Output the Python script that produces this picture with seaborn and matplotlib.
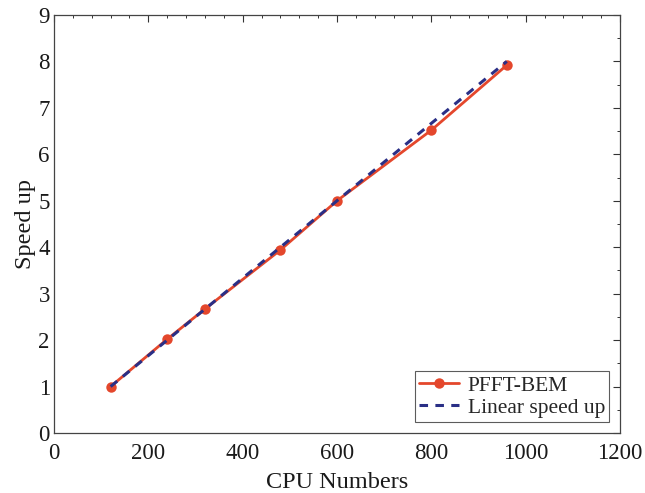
import matplotlib
matplotlib.use("Agg")
import matplotlib.pyplot as plt
from matplotlib.ticker import MultipleLocator
import seaborn as sns
import pandas as pd

cpu_numbers = [120, 240, 320, 480, 600, 800, 960]
pfft_bem = [1.0, 2.02, 2.67, 3.94, 5.0, 6.52, 7.92]
linear_speedup = [1.0, 2.0, 2.667, 4.0, 5.0, 6.667, 8.0]

sns.set_theme(style="white")
plt.rcParams["font.family"] = ["Liberation Serif", "DejaVu Serif"]

df = pd.DataFrame({"cpu": cpu_numbers, "pfft": pfft_bem, "linear": linear_speedup})

fig = plt.figure(figsize=(6.45, 4.93), dpi=100)
ax = fig.add_axes([54 / 645, 1 - 433 / 493, (620 - 54) / 645, (433 - 15) / 493])

sns.lineplot(data=df, x="cpu", y="pfft", ax=ax, color="#e4472c", linewidth=2.0,
             marker="o", markersize=7.5, markeredgewidth=0, label="PFFT-BEM")
sns.lineplot(data=df, x="cpu", y="linear", ax=ax, color="#2a2f86", linewidth=2.2,
             linestyle=(0, (2.8, 2.4)), label="Linear speed up")

ax.set_xlim(0, 1200)
ax.set_ylim(0, 9)
ax.xaxis.set_major_locator(MultipleLocator(200))
ax.xaxis.set_minor_locator(MultipleLocator(40))
ax.yaxis.set_major_locator(MultipleLocator(1))
ax.yaxis.set_minor_locator(MultipleLocator(0.5))
ax.tick_params(which="both", direction="in", top=True, right=True, colors="#333333",
               labelcolor="#1a1a1a")
ax.tick_params(which="major", length=5, width=0.8, labelsize=16.5)
ax.tick_params(axis="x", which="major", pad=7)
ax.tick_params(axis="y", which="major", pad=3)
ax.tick_params(which="minor", length=2.5, width=0.7)
for s in ax.spines.values():
    s.set_color("#444444")
    s.set_linewidth(0.9)

ax.set_xlabel("CPU Numbers", fontsize=17.5, color="#1a1a1a", labelpad=6)
ax.set_ylabel("Speed up", fontsize=17.5, color="#1a1a1a", labelpad=2)

leg = ax.legend(loc="lower right", fontsize=15.5, frameon=True, fancybox=False,
                borderpad=0.2, handlelength=1.85, handletextpad=0.4,
                labelspacing=0.1, borderaxespad=0.5)
leg.get_frame().set_edgecolor("#333333")
leg.get_frame().set_linewidth(0.8)

fig.savefig("out.png", dpi=100)
